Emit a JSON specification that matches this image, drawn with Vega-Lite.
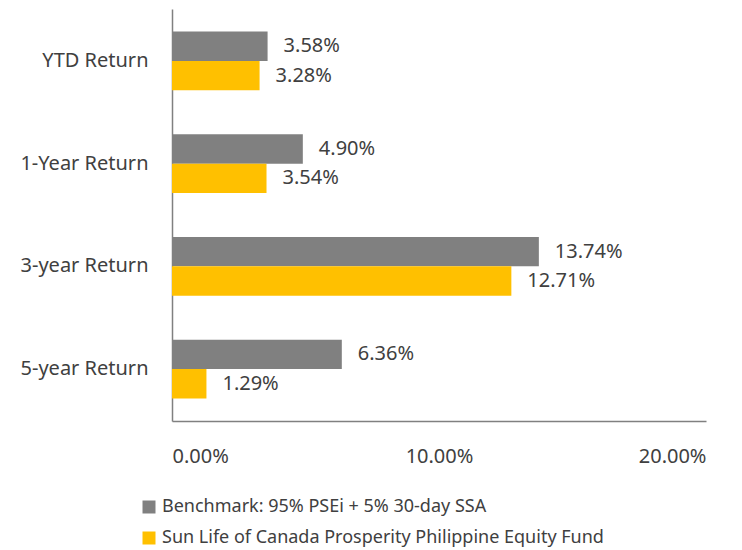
{
  "$schema": "https://vega.github.io/schema/vega-lite/v6.json",
  "width": 534,
  "height": 412,
  "autosize": {"type": "none"},
  "padding": {"left": 172, "top": 9, "right": 36, "bottom": 129},
  "background": "white",
  "config": {
    "view": {"stroke": null},
    "font": "Noto Sans",
    "text": {"font": "Noto Sans"}
  },
  "data": {
    "values": [
      {"period": "YTD Return", "series": "Benchmark: 95% PSEi + 5% 30-day SSA", "value": 0.0358},
      {"period": "YTD Return", "series": "Sun Life of Canada Prosperity Philippine Equity Fund", "value": 0.0328},
      {"period": "1-Year Return", "series": "Benchmark: 95% PSEi + 5% 30-day SSA", "value": 0.0490},
      {"period": "1-Year Return", "series": "Sun Life of Canada Prosperity Philippine Equity Fund", "value": 0.0354},
      {"period": "3-year Return", "series": "Benchmark: 95% PSEi + 5% 30-day SSA", "value": 0.1374},
      {"period": "3-year Return", "series": "Sun Life of Canada Prosperity Philippine Equity Fund", "value": 0.1271},
      {"period": "5-year Return", "series": "Benchmark: 95% PSEi + 5% 30-day SSA", "value": 0.0636},
      {"period": "5-year Return", "series": "Sun Life of Canada Prosperity Philippine Equity Fund", "value": 0.0129}
    ]
  },
  "encoding": {
    "y": {
      "field": "period",
      "type": "nominal",
      "sort": ["YTD Return", "1-Year Return", "3-year Return", "5-year Return"],
      "scale": {"paddingInner": 0.43, "paddingOuter": 0.22},
      "axis": {
        "title": null,
        "ticks": false,
        "domain": true,
        "domainColor": "#808080",
        "domainWidth": 1.5,
        "labelPadding": 24,
        "labelFontSize": 20,
        "labelColor": "#404040",
        "labelFont": "Noto Sans"
      }
    },
    "yOffset": {
      "field": "series",
      "type": "nominal",
      "sort": ["Benchmark: 95% PSEi + 5% 30-day SSA", "Sun Life of Canada Prosperity Philippine Equity Fund"]
    },
    "x": {
      "field": "value",
      "type": "quantitative",
      "scale": {"domain": [0, 0.2], "nice": false},
      "axis": {
        "title": null,
        "values": [0, 0.1, 0.2],
        "format": ".2%",
        "grid": false,
        "ticks": false,
        "domainColor": "#808080",
        "domainWidth": 1.5,
        "labelPadding": 25,
        "labelFontSize": 20,
        "labelColor": "#404040",
        "labelFont": "Noto Sans"
      }
    }
  },
  "layer": [
    {
      "mark": {"type": "bar"},
      "encoding": {
        "color": {
          "field": "series",
          "type": "nominal",
          "sort": ["Benchmark: 95% PSEi + 5% 30-day SSA", "Sun Life of Canada Prosperity Philippine Equity Fund"],
          "scale": {"range": ["#808080", "#FFC000"]},
          "legend": {
            "title": null,
            "orient": "none",
            "legendX": -32,
            "legendY": 489,
            "direction": "vertical",
            "symbolType": "square",
            "symbolSize": 169,
            "symbolStrokeWidth": 0,
            "labelFontSize": 18,
            "labelColor": "#404040",
            "labelFont": "Noto Sans",
            "labelOffset": 4,
            "rowPadding": 13,
            "labelLimit": 700
          }
        }
      }
    },
    {
      "mark": {"type": "text", "align": "left", "baseline": "middle", "dx": 16, "fontSize": 20, "color": "#404040", "font": "Noto Sans"},
      "encoding": {
        "text": {"field": "value", "type": "quantitative", "format": ".2%"}
      }
    }
  ]
}
